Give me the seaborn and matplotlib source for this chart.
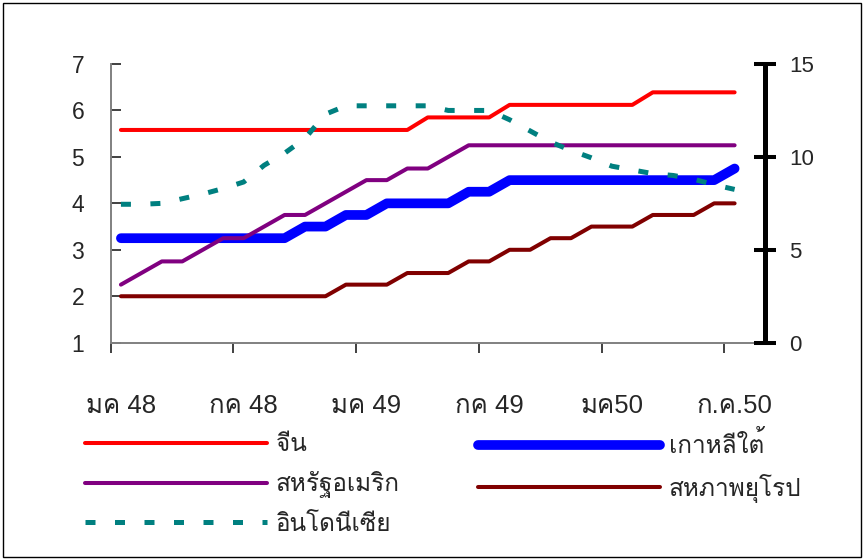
import numpy as np
import pandas as pd
import matplotlib
matplotlib.use("Agg")
import matplotlib.pyplot as plt
from matplotlib import font_manager as fm
from matplotlib.patches import Rectangle
import seaborn as sns

# Monthly policy rates, Jan 2005 (มค 48) to Jul 2007 (ก.ค.50)
china = [5.58, 5.58, 5.58, 5.58, 5.58, 5.58, 5.58, 5.58, 5.58, 5.58, 5.58,
         5.58, 5.58, 5.58, 5.58, 5.85, 5.85, 5.85, 5.85, 6.12, 6.12, 6.12,
         6.12, 6.12, 6.12, 6.12, 6.39, 6.39, 6.39, 6.39, 6.39]
korea = [3.25, 3.25, 3.25, 3.25, 3.25, 3.25, 3.25, 3.25, 3.25, 3.5, 3.5,
         3.75, 3.75, 4.0, 4.0, 4.0, 4.0, 4.25, 4.25, 4.5, 4.5, 4.5,
         4.5, 4.5, 4.5, 4.5, 4.5, 4.5, 4.5, 4.5, 4.75]
usa = [2.25, 2.5, 2.75, 2.75, 3.0, 3.25, 3.25, 3.5, 3.75, 3.75, 4.0,
       4.25, 4.5, 4.5, 4.75, 4.75, 5.0, 5.25, 5.25, 5.25, 5.25, 5.25,
       5.25, 5.25, 5.25, 5.25, 5.25, 5.25, 5.25, 5.25, 5.25]
eu = [2.0, 2.0, 2.0, 2.0, 2.0, 2.0, 2.0, 2.0, 2.0, 2.0, 2.0,
      2.25, 2.25, 2.25, 2.5, 2.5, 2.5, 2.75, 2.75, 3.0, 3.0, 3.25,
      3.25, 3.5, 3.5, 3.5, 3.75, 3.75, 3.75, 4.0, 4.0]
# Indonesia is read on the right-hand axis (0-15)
indonesia = [7.45, 7.45, 7.5, 7.75, 8.0, 8.3, 8.65, 9.55, 10.2, 11.0, 12.3,
             12.75, 12.75, 12.75, 12.75, 12.75, 12.5, 12.5, 12.5, 12.0, 11.4, 10.8,
             10.35, 9.95, 9.5, 9.3, 9.1, 9.0, 8.8, 8.5, 8.25]

series_names = ["จีน", "เกาหลีใต้", "สหรัฐอเมริก", "สหภาพยุโรป", "อินโดนีเซีย"]
tick_labels = ["มค 48", "กค 48", "มค 49", "กค 49", "มค50", "ก.ค.50"]
left_ticks = [1, 2, 3, 4, 5, 6, 7]
right_ticks = [0, 5, 10, 15]

months = np.arange(len(china))
df = pd.DataFrame({"month": months, "china": china, "korea": korea,
                   "usa": usa, "eu": eu, "indonesia": indonesia})


def find_thai_family():
    """Return the family name of an installed font that covers Thai."""
    try:
        from fontTools.ttLib import TTFont
    except ImportError:
        return None
    preferred, others = [], []
    for path in sorted(set(fm.findSystemFonts())):
        try:
            font = TTFont(path, fontNumber=0, lazy=True)
            cmap = font.getBestCmap()
        except Exception:
            continue
        if cmap and 0x0E01 in cmap and 0x0E35 in cmap:
            try:
                fm.fontManager.addfont(path)
                name = fm.FontProperties(fname=path).get_name()
            except Exception:
                continue
            if "Bold" in path or "Italic" in path or "Oblique" in path:
                others.append(name)
            else:
                preferred.append(name)
    names = preferred + others
    return names[0] if names else None


sns.set_style("white")
thai = find_thai_family()
families = ["Liberation Sans"] + ([thai] if thai else []) + ["DejaVu Sans"]
plt.rcParams["font.family"] = families
plt.rcParams["lines.solid_capstyle"] = "round"

W, H = 863, 559
fig = plt.figure(figsize=(W / 100, H / 100), dpi=100)
fig.patch.set_facecolor("white")

x0, x1, ytop, ybot = 110.7, 765.3, 64.0, 342.7
ax = fig.add_axes([x0 / W, 1 - ybot / H, (x1 - x0) / W, (ybot - ytop) / H])
ax.set_facecolor("none")

sns.lineplot(data=df, x="month", y="china", ax=ax, color="#FF0000", linewidth=2.9)
sns.lineplot(data=df, x="month", y="korea", ax=ax, color="#0000FF", linewidth=7.0)
sns.lineplot(data=df, x="month", y="usa", ax=ax, color="#800080", linewidth=2.9)
sns.lineplot(data=df, x="month", y="eu", ax=ax, color="#800000", linewidth=2.9)
for ln in ax.lines:
    ln.set_solid_capstyle("round")
    ln.set_solid_joinstyle("round")

ax.set_xlim(-0.5, 31.5)
ax.set_ylim(1, 7)
ax.set_yticks(left_ticks)
ax.set_yticklabels([str(t) for t in left_ticks], fontsize=16.5)
ax.tick_params(axis="y", direction="in", length=7.2, width=1.2, color="#202020",
               pad=19, left=True)

# tick marks between categories, labels under the months
ax.set_xticks(np.arange(-0.5, 30, 6))
ax.set_xticklabels([])
ax.set_xticks(np.arange(0, 31, 6), minor=True)
ax.set_xticklabels(tick_labels, minor=True, fontsize=18.5)
ax.tick_params(axis="x", which="major", direction="out", length=7.2, width=1.2,
               color="#202020", bottom=True)
ax.tick_params(axis="x", which="minor", length=0, pad=37)
ax.set_xlabel("")
ax.set_ylabel("")
ax.grid(False)
for side in ("top", "right"):
    ax.spines[side].set_visible(False)
for side in ("left", "bottom"):
    ax.spines[side].set_color("#808080")
    ax.spines[side].set_linewidth(1.4)

ax2 = ax.twinx()
sns.lineplot(data=df, x="month", y="indonesia", ax=ax2, color="#008080",
             linewidth=3.6, linestyle=(0, (2.0, 3.9)))
ax2.lines[0].set_dash_capstyle("butt")
ax2.set_ylim(0, 15)
ax2.set_yticks(right_ticks)
ax2.set_yticklabels([str(t) for t in right_ticks], fontsize=16)
ax2.tick_params(axis="y", direction="inout", length=15.8, width=2.9,
                color="black", pad=9, right=True)
ax2.set_ylabel("")
ax2.set_xlabel("")
for side in ("top", "left", "bottom"):
    ax2.spines[side].set_visible(False)
ax2.spines["right"].set_color("black")
ax2.spines["right"].set_linewidth(3.6)
ax2.spines["right"].set_capstyle("butt")

h_china, h_korea, h_usa, h_eu = ax.lines[:4]
h_indo = ax2.lines[0]

leg_kw = dict(frameon=False, fontsize=17.5, handlelength=7.5, handletextpad=0.35,
              borderpad=0, borderaxespad=0, labelspacing=0.62, loc="center left")
leg1 = fig.legend([h_china, h_usa, h_indo], [series_names[0], series_names[2], series_names[4]],
                  bbox_to_anchor=(85 / W, 1 - 485 / H), **leg_kw)
leg2 = fig.legend([h_korea, h_eu], [series_names[1], series_names[3]],
                  bbox_to_anchor=(478 / W, 1 - 467 / H), **leg_kw)

fig.patches.append(Rectangle((2.5 / W, 2.5 / H), (860.5 - 2.5) / W, (556.5 - 2.5) / H,
                             transform=fig.transFigure, fill=False,
                             edgecolor="black", linewidth=1.0))

fig.savefig("out.png", dpi=100, facecolor="white")
